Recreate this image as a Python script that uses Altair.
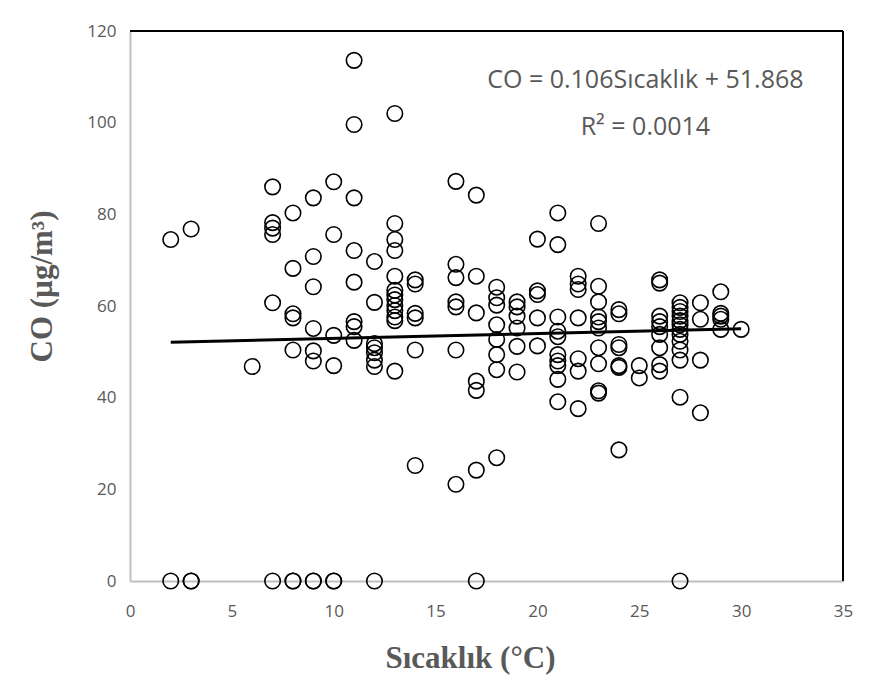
import altair as alt
import pandas as pd

# Temperature (x) and CO (y) values
sicaklik = (
    [2, 2, 3, 3, 3, 6]
    + [7] * 6
    + [8] * 7
    + [9] * 8
    + [10] * 6
    + [11] * 8
    + [12] * 8
    + [13] * 13
    + [14] * 6
    + [16] * 7
    + [17] * 7
    + [18] * 8
    + [19] * 6
    + [20] * 5
    + [21] * 10
    + [22] * 7
    + [23] * 10
    + [24] * 7
    + [25] * 2
    + [26] * 9
    + [27] * 13
    + [28] * 4
    + [29] * 5
    + [30]
)
co = (
    [74.5, 0, 76.8, 0, 0, 46.8]
    + [86.0, 78.2, 77.0, 75.6, 60.7, 0]
    + [80.3, 68.2, 58.3, 57.4, 50.4, 0, 0]
    + [83.6, 70.8, 64.2, 55.1, 50.2, 48.0, 0, 0]
    + [87.1, 75.6, 53.6, 47.0, 0, 0]
    + [113.6, 99.6, 83.6, 72.1, 65.2, 56.6, 55.5, 52.5]
    + [69.7, 60.8, 51.8, 50.9, 49.8, 48.2, 46.8, 0]
    + [102.0, 78.0, 74.5, 72.1, 66.5, 63.4, 62.4, 61.4, 60.1, 59.0, 57.6, 56.8, 45.8]
    + [65.7, 64.8, 58.4, 57.4, 50.4, 25.2]
    + [87.2, 69.1, 66.2, 60.9, 59.8, 50.4, 21.1]
    + [84.2, 66.5, 58.5, 43.6, 41.6, 24.2, 0]
    + [64.1, 61.8, 60.2, 55.9, 52.7, 49.4, 46.1, 26.9]
    + [60.9, 59.8, 57.8, 55.2, 51.2, 45.6]
    + [74.6, 63.3, 62.5, 57.4, 51.3]
    + [80.3, 73.4, 57.6, 54.5, 53.3, 49.4, 48.0, 47.0, 44.0, 39.1]
    + [66.5, 64.8, 63.6, 57.4, 48.5, 45.8, 37.6]
    + [78.0, 64.3, 60.9, 57.6, 56.6, 55.2, 50.9, 47.4, 41.5, 41.0]
    + [59.2, 58.3, 51.6, 50.9, 47.0, 46.6, 28.6]
    + [47.0, 44.3]
    + [65.7, 65.0, 57.8, 56.6, 55.5, 53.8, 50.9, 47.2, 45.8]
    + [60.7, 59.7, 58.8, 57.8, 56.8, 55.9, 54.9, 53.8, 52.3, 50.4, 48.2, 40.1, 0]
    + [60.7, 57.1, 48.2, 36.7]
    + [63.1, 58.4, 57.8, 57.1, 54.9]
    + [54.9]
)

# Trendline endpoints (CO = 0.106 Sıcaklık + 51.868) over the data range
trend_x = [2, 30]
trend_y = [52.08, 55.05]

x_ticks = [0, 5, 10, 15, 20, 25, 30, 35]
y_ticks = [0, 20, 40, 60, 80, 100, 120]

equation_lines = ["CO = 0.106Sıcaklık + 51.868", "R² = 0.0014"]
equation_x = [25.3, 25.3]
equation_y = [109.3, 99.1]

df = pd.DataFrame({"x": sicaklik, "y": co})
trend_df = pd.DataFrame({"x": trend_x, "y": trend_y})
eq_df = pd.DataFrame({"x": equation_x, "y": equation_y, "t": equation_lines})

W, H = 713, 550
GRAY = "#595959"

xscale = alt.Scale(domain=[0, 35], nice=False, zero=False)
yscale = alt.Scale(domain=[0, 120], nice=False, zero=False)

xaxis = alt.Axis(
    values=x_ticks, title="Sıcaklık (°C)", grid=False, ticks=False, labelFlush=False,
    domainColor="#bfbfbf", domainWidth=2, labelColor=GRAY, labelFont="Open Sans",
    labelFontSize=17, labelPadding=22, titleFont="Liberation Serif",
    titleFontSize=31, titleFontWeight="bold", titleColor=GRAY,
    titleBaseline="middle", titleY=77, titleX=340, titleAlign="center",
)
yaxis = alt.Axis(
    values=y_ticks, title="CO (µg/m³)", grid=False, ticks=False, labelFlush=False,
    domainColor="#bfbfbf", domainWidth=2, labelColor=GRAY, labelFont="Open Sans",
    labelFontSize=17, labelPadding=14, titleFont="Liberation Serif",
    titleFontSize=31, titleFontWeight="bold", titleColor=GRAY,
    titleBaseline="middle", titleX=-88, titleY=255, titleAngle=-90, titleAlign="center",
)

points = alt.Chart(df).mark_point(
    shape="circle", filled=False, color="black", size=240, strokeWidth=1.6, opacity=1
).encode(
    x=alt.X("x:Q", scale=xscale, axis=xaxis),
    y=alt.Y("y:Q", scale=yscale, axis=yaxis),
)

trend = alt.Chart(trend_df).mark_line(color="black", strokeWidth=3).encode(
    x=alt.X("x:Q", scale=xscale),
    y=alt.Y("y:Q", scale=yscale),
)

eq = alt.Chart(eq_df).mark_text(
    font="Open Sans", fontSize=25, color=GRAY, align="center", baseline="middle"
).encode(
    x=alt.X("x:Q", scale=xscale),
    y=alt.Y("y:Q", scale=yscale),
    text="t:N",
)

top_border = alt.Chart(df).mark_rule(color="black", strokeWidth=2).encode(
    x=alt.value(0), x2=alt.value(W), y=alt.value(0)
)
right_border = alt.Chart(df).mark_rule(color="black", strokeWidth=2).encode(
    x=alt.value(W), y=alt.value(0), y2=alt.value(H)
)

chart = alt.layer(points, trend, eq, top_border, right_border).properties(
    width=W, height=H,
    autosize=alt.AutoSizeParams(type="none"),
    padding={"left": 122, "top": 23, "right": 20, "bottom": 100},
).configure_view(stroke=None).configure(background="white")

chart.save("out.html", embed_options={"renderer": "svg", "actions": False})
